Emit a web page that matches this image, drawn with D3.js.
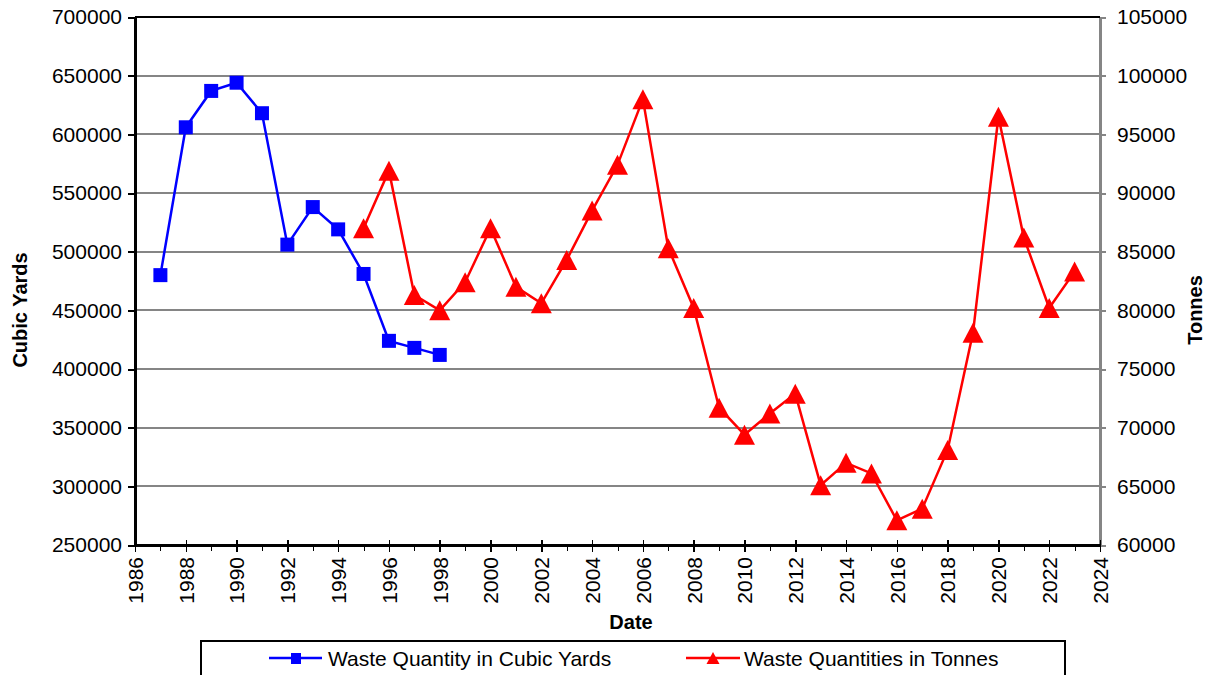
<!DOCTYPE html>
<html>
<meta charset="utf-8">
<style>
  body { margin: 0; background: #fff; }
  svg { width: 1209px; height: 675px; display: block; }
  text { font-family: "Liberation Sans", Arial, sans-serif; fill: #000; }
  .axis path, .axis line { shape-rendering: crispEdges; }
</style>
<body>
  <svg></svg>
</body>
<script src="https://cdn.jsdelivr.net/npm/d3@7"></script>
<script>

  // data
  var yardYears = [1987, 1988, 1989, 1990, 1991, 1992, 1993, 1994, 1995, 1996, 1997, 1998];
  var yardValues = [480000, 606000, 637000, 644000, 618000, 506000, 538000, 519000, 481000, 424000, 418000, 412000];

  var tonneYears = [1995, 1996, 1997, 1998, 1999, 2000, 2001, 2002, 2003, 2004, 2005, 2006, 2007, 2008, 2009,
                    2010, 2011, 2012, 2013, 2014, 2015, 2016, 2017, 2018, 2019, 2020, 2021, 2022, 2023];
  var tonneValues = [87000, 91900, 81300, 80000, 82400, 87000, 82000, 80600, 84300, 88500, 92400, 98000, 85300, 80200, 71700,
                     69400, 71200, 72900, 65100, 67000, 66100, 62100, 63100, 68100, 78100, 96500, 86200, 80200, 83300];

  var yardTicks = [250000, 300000, 350000, 400000, 450000, 500000, 550000, 600000, 650000, 700000];
  var tonneTicks = [60000, 65000, 70000, 75000, 80000, 85000, 90000, 95000, 100000, 105000];
  var yearLabels = d3.range(1986, 2025, 2);
  var yearMinor = d3.range(1986, 2025, 1);

  var seriesNames = ["Waste Quantity in Cubic Yards", "Waste Quantities in Tonnes"];

  var plotLeft = 135, plotRight = 1100, plotTop = 17, plotBottom = 545;

  var svg = d3.select("svg");

  var xScale = d3.scaleLinear().domain([1986, 2024]).range([plotLeft, plotRight]);
  var yLeft = d3.scaleLinear().domain([250000, 700000]).range([plotBottom, plotTop]);
  var yRight = d3.scaleLinear().domain([60000, 105000]).range([plotBottom, plotTop]);

  // GRIDLINES
  svg.append("g").selectAll("line")
    .data(yardTicks.slice(1, -1))
    .enter().append("line")
      .attr("x1", plotLeft).attr("x2", plotRight)
      .attr("y1", d => Math.round(yLeft(d))).attr("y2", d => Math.round(yLeft(d)))
      .attr("stroke", "#858585").attr("stroke-width", 2.5)
      .style("shape-rendering", "crispEdges");

  // top border
  svg.append("line")
    .attr("x1", plotLeft).attr("x2", plotRight).attr("y1", plotTop).attr("y2", plotTop)
    .attr("stroke", "#000").attr("stroke-width", 2);

  // LEFT AXIS
  var axL = svg.append("g").attr("class", "axis")
    .attr("transform", "translate(" + plotLeft + ",0)")
    .call(d3.axisLeft(yLeft).tickValues(yardTicks).tickSize(7).tickSizeOuter(0).tickFormat(d3.format("d")));
  axL.select(".domain").attr("stroke", "#000").attr("stroke-width", 2.5);
  axL.selectAll(".tick line").attr("stroke", "#000").attr("stroke-width", 2);
  axL.selectAll("text").attr("font-size", 21).attr("x", -13);

  // RIGHT AXIS
  var axR = svg.append("g").attr("class", "axis")
    .attr("transform", "translate(" + plotRight + ",0)")
    .call(d3.axisRight(yRight).tickValues(tonneTicks).tickSize(6).tickSizeOuter(0).tickFormat(d3.format("d")));
  axR.select(".domain").attr("stroke", "#858585").attr("stroke-width", 2.5);
  axR.selectAll(".tick line").attr("stroke", "#858585").attr("stroke-width", 2);
  axR.selectAll("text").attr("font-size", 21).attr("x", 17);

  // BOTTOM AXIS
  var axMinor = svg.append("g").attr("class", "axis")
    .attr("transform", "translate(0," + plotBottom + ")")
    .call(d3.axisBottom(xScale).tickValues(yearMinor).tickSize(6).tickSizeOuter(0).tickFormat(""));
  axMinor.select(".domain").attr("stroke", "#000").attr("stroke-width", 2.5);
  axMinor.selectAll(".tick line").attr("stroke", "#000").attr("stroke-width", 1);

  var axB = svg.append("g").attr("class", "axis")
    .attr("transform", "translate(0," + plotBottom + ")")
    .call(d3.axisBottom(xScale).tickValues(yearLabels).tickSize(7).tickSizeOuter(0).tickFormat(d3.format("d")));
  axB.select(".domain").remove();
  axB.selectAll(".tick line").attr("stroke", "#000").attr("stroke-width", 1.5).attr("y1", -5);
  axB.selectAll("text")
    .attr("font-size", 21)
    .attr("transform", "rotate(-90)")
    .attr("x", -12).attr("y", 0).attr("dy", "0.35em")
    .style("text-anchor", "end");

  // AXIS TITLES
  svg.append("text").attr("x", 631).attr("y", 629)
    .attr("text-anchor", "middle").attr("font-size", 20).attr("font-weight", "bold").text("Date");
  svg.append("text").attr("transform", "translate(27,310) rotate(-90)")
    .attr("text-anchor", "middle").attr("font-size", 20).attr("font-weight", "bold").text("Cubic Yards");
  svg.append("text").attr("transform", "translate(1202,310) rotate(-90)")
    .attr("text-anchor", "middle").attr("font-size", 20).attr("font-weight", "bold").text("Tonnes");

  // SERIES
  var yardData = yardYears.map((d, i) => [d, yardValues[i]]);
  var tonneData = tonneYears.map((d, i) => [d, tonneValues[i]]);

  var yardLine = d3.line().x(d => xScale(d[0])).y(d => yLeft(d[1]));
  var tonneLine = d3.line().x(d => xScale(d[0])).y(d => yRight(d[1]));

  function triangle(cx, cy, w, h) {
    return "M" + cx + "," + (cy - h / 2) + "L" + (cx + w / 2) + "," + (cy + h / 2) + "L" + (cx - w / 2) + "," + (cy + h / 2) + "Z";
  }

  svg.append("path").datum(yardData)
    .attr("d", yardLine).attr("fill", "none").attr("stroke", "#0000ff").attr("stroke-width", 2.5);
  svg.append("g").selectAll("rect").data(yardData)
    .enter().append("rect")
      .attr("x", d => xScale(d[0]) - 7).attr("y", d => yLeft(d[1]) - 7)
      .attr("width", 14).attr("height", 14).attr("fill", "#0000ff");

  svg.append("path").datum(tonneData)
    .attr("d", tonneLine).attr("fill", "none").attr("stroke", "#ff0000").attr("stroke-width", 2.5);
  svg.append("g").selectAll("path").data(tonneData)
    .enter().append("path")
      .attr("d", d => triangle(xScale(d[0]), yRight(d[1]), 21, 20))
      .attr("fill", "#ff0000");

  // LEGEND
  var lg = svg.append("g");
  lg.append("rect").attr("x", 201).attr("y", 641).attr("width", 864).attr("height", 40)
    .attr("fill", "#fff").attr("stroke", "#000").attr("stroke-width", 2);

  lg.append("line").attr("x1", 269).attr("x2", 322).attr("y1", 658).attr("y2", 658)
    .attr("stroke", "#0000ff").attr("stroke-width", 2.5);
  lg.append("rect").attr("x", 291).attr("y", 653).attr("width", 10).attr("height", 11).attr("fill", "#0000ff");
  lg.append("text").attr("x", 328).attr("y", 666).attr("font-size", 21).text(seriesNames[0]);

  lg.append("line").attr("x1", 686).attr("x2", 740).attr("y1", 658).attr("y2", 658)
    .attr("stroke", "#ff0000").attr("stroke-width", 2.5);
  lg.append("path").attr("d", triangle(713, 658, 13, 12)).attr("fill", "#ff0000");
  lg.append("text").attr("x", 744).attr("y", 666).attr("font-size", 21).text(seriesNames[1]);

</script>
</html>
